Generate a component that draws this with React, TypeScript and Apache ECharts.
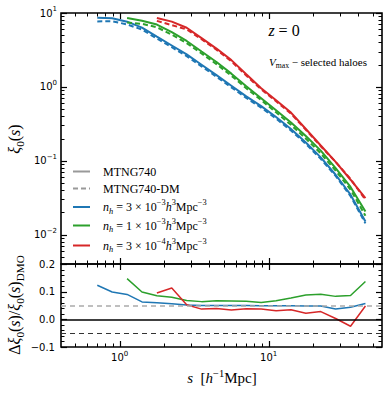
import React, { useEffect, useRef } from 'react';
import * as echarts from 'echarts';

// separation bins s [h^-1 Mpc]
const sBins = [0.708, 0.891, 1.122, 1.413, 1.778, 2.239, 2.818, 3.548, 4.467, 5.623, 7.079, 8.913, 11.22, 14.13, 17.78, 22.39, 28.18, 35.48, 44.67];
const sBlue = sBins;
const sGreen = sBins.slice(2);
const sRed = sBins.slice(4);

// xi_0(s), hydro (MTNG740) and dark-matter-only (MTNG740-DM)
const xiBlue = [8.64, 8.51, 7.63, 6.34, 4.79, 3.63, 2.75, 1.99, 1.44, 1.035, 0.743, 0.549, 0.391, 0.269, 0.177, 0.111, 0.0646, 0.0347, 0.0150];
const xiBlueDM = [7.69, 7.74, 7.0, 5.96, 4.52, 3.44, 2.61, 1.895, 1.371, 0.986, 0.708, 0.523, 0.373, 0.256, 0.169, 0.106, 0.0623, 0.0332, 0.0142];
const xiGreen = [8.56, 7.84, 6.97, 5.5, 4.18, 3.01, 2.17, 1.51, 1.02, 0.703, 0.482, 0.33, 0.216, 0.137, 0.0796, 0.0442, 0.0205];
const xiGreenDM = [7.46, 7.13, 6.42, 5.09, 3.91, 2.83, 2.03, 1.417, 0.958, 0.663, 0.452, 0.306, 0.199, 0.126, 0.0735, 0.0407, 0.018];
const xiRed = [8.56, 7.64, 6.31, 4.57, 3.3, 2.3, 1.48, 0.959, 0.658, 0.449, 0.269, 0.161, 0.0966, 0.0553, 0.0311];
const xiRedDM = [7.82, 6.86, 5.99, 4.41, 3.18, 2.22, 1.426, 0.925, 0.638, 0.434, 0.263, 0.157, 0.0963, 0.0567, 0.0297];

// relative difference
const dBlue = [0.123, 0.099, 0.09, 0.063, 0.06, 0.056, 0.052, 0.05, 0.05, 0.05, 0.05, 0.049, 0.049, 0.049, 0.048, 0.048, 0.037, 0.044, 0.057];
const dGreen = [0.147, 0.099, 0.085, 0.08, 0.068, 0.064, 0.067, 0.066, 0.065, 0.061, 0.067, 0.077, 0.088, 0.091, 0.083, 0.086, 0.137];
const dRed = [0.095, 0.113, 0.053, 0.037, 0.039, 0.034, 0.038, 0.037, 0.031, 0.035, 0.022, 0.028, 0.003, -0.025, 0.048];
const refLevels = [0.05, 0, -0.05];

// axis ranges and ticks
const sRange = [0.404, 57.7];
const xiRange = [0.004, 10];
const dRange = [-0.1, 0.2];
const dInterval = 0.1;
const sMajor = [1, 10];
const sMinor = [0.5, 0.6, 0.7, 0.8, 0.9, 2, 3, 4, 5, 6, 7, 8, 9, 20, 30, 40, 50];
const xiMajor = [0.01, 0.1, 1, 10];
const xiMinor = [0.005, 0.006, 0.007, 0.008, 0.009, 0.02, 0.03, 0.04, 0.05, 0.06, 0.07, 0.08, 0.09, 0.2, 0.3, 0.4, 0.5, 0.6, 0.7, 0.8, 0.9, 2, 3, 4, 5, 6, 7, 8, 9];
const dMajor = [-0.1, 0, 0.1, 0.2];
const dMinor = [-0.08, -0.06, -0.04, -0.02, 0.02, 0.04, 0.06, 0.08, 0.12, 0.14, 0.16, 0.18];

const legendLabels = ['MTNG740', 'MTNG740-DM', '3', '1', '3'];
const legendExp = ['-3', '-3', '-4'];

const BLUE = '#1f77b4';
const GREEN = '#2ca02c';
const RED = '#d62728';
const GRAY = '#999999';
const SERIF = '"Liberation Serif", "DejaVu Serif", serif';
const SANS = '"DejaVu Sans", sans-serif';

const L = Math.log10;

const mathRich = (fs: number) => ({
  i: { fontFamily: SERIF, fontStyle: 'italic', fontSize: fs, lineHeight: fs * 1.4, color: '#000' },
  r: { fontFamily: SERIF, fontSize: fs, lineHeight: fs * 1.4, color: '#000' },
  sup: { fontFamily: SERIF, fontSize: fs * 0.7, lineHeight: fs * 0.8, verticalAlign: 'top', color: '#000' },
  isup: { fontFamily: SERIF, fontStyle: 'italic', fontSize: fs * 0.7, lineHeight: fs * 0.8, verticalAlign: 'top', color: '#000' },
  sub: { fontFamily: SERIF, fontSize: fs * 0.7, lineHeight: fs * 0.8, verticalAlign: 'bottom', color: '#000' },
  isub: { fontFamily: SERIF, fontStyle: 'italic', fontSize: fs * 0.7, lineHeight: fs * 0.8, verticalAlign: 'bottom', color: '#000' },
});

const tickRich = {
  b: { fontFamily: SANS, fontSize: 10, lineHeight: 15, color: '#000' },
  s: { fontFamily: SANS, fontSize: 7, lineHeight: 8, verticalAlign: 'top', color: '#000' },
};
const logLabel = (v: number) => {
  const e = Math.round(v);
  return `{b|10}{s|${e < 0 ? '−' + -e : e}}`;
};

function tickSeries(idx: number, dir: 'x' | 'y', major: number[], minor: number[], other: number) {
  const data = [
    ...major.map((v) => (dir === 'x' ? [v, other, 1] : [other, v, 1])),
    ...minor.map((v) => (dir === 'x' ? [v, other, 0] : [other, v, 0])),
  ];
  return {
    type: 'custom',
    xAxisIndex: idx,
    yAxisIndex: idx,
    silent: true,
    z: 10,
    data,
    renderItem: (params: any, api: any) => {
      const cs = params.coordSys;
      const len = api.value(2) ? 6 : 3.5;
      const p = api.coord([api.value(0), api.value(1)]);
      const style = { stroke: '#000', lineWidth: api.value(2) ? 1.2 : 1 };
      if (dir === 'x') {
        const x = Math.round(p[0]) + 0.5;
        return {
          type: 'group',
          children: [
            { type: 'line', shape: { x1: x, y1: cs.y + cs.height, x2: x, y2: cs.y + cs.height - len }, style },
            { type: 'line', shape: { x1: x, y1: cs.y, x2: x, y2: cs.y + len }, style },
          ],
        };
      }
      const y = Math.round(p[1]) + 0.5;
      return {
        type: 'group',
        children: [
          { type: 'line', shape: { x1: cs.x, y1: y, x2: cs.x + len, y2: y }, style },
          { type: 'line', shape: { x1: cs.x + cs.width, y1: y, x2: cs.x + cs.width - len, y2: y }, style },
        ],
      };
    },
  };
}

const lineSeries = (s: number[], v: number[], color: string, dashed: boolean, idx: number, logY: boolean, width: number) => ({
  type: 'line',
  xAxisIndex: idx,
  yAxisIndex: idx,
  data: s.map((x, i) => [L(x), logY ? L(v[i]) : v[i]]),
  showSymbol: false,
  symbol: 'none',
  silent: true,
  lineStyle: { color, width, type: dashed ? [5, 3] : 'solid' },
  z: dashed ? 4 : 3,
});

export default function App() {
  const ref = useRef<HTMLDivElement>(null);
  useEffect(() => {
    if (!ref.current) return;
    const chart = echarts.init(ref.current, null, { renderer: 'svg' });
    const gridL = 61, gridR = 9;
    const commonX = {
      type: 'value',
      min: L(sRange[0]),
      max: L(sRange[1]),
      axisLine: { show: false },
      axisTick: { show: false },
      splitLine: { show: false },
    };
    const legendRows = [171.5, 188.5, 207, 225.5, 245.5];
    const legendColors = [GRAY, GRAY, BLUE, GREEN, RED];
    const graphics: any[] = [];
    legendRows.forEach((y, i) => {
      graphics.push({
        type: 'line',
        shape: { x1: 73, y1: y, x2: 90, y2: y },
        style: { stroke: legendColors[i], lineWidth: 2, lineDash: i === 1 ? [5, 3] : null },
        z: 20,
      });
      const text =
        i < 2
          ? `{r|${legendLabels[i]}}`
          : `{i|n}{isub|h}{r| = ${legendLabels[i]} × 10}{sup|${legendExp[i - 2].replace('-', '−')}}{i|h}{sup|3}{r|Mpc}{sup|−3}`;
      graphics.push({
        type: 'text',
        x: 103,
        y,
        z: 20,
        style: { text, rich: mathRich(12), verticalAlign: 'middle', align: 'left' },
      });
    });
    graphics.push(
      {
        type: 'text', x: 284, y: 30, z: 20,
        style: { text: '{i|z}{r| = 0}', rich: mathRich(16), align: 'center', verticalAlign: 'middle' },
      },
      {
        type: 'text', x: 318, y: 62, z: 20,
        style: { text: '{i|V}{sub|max}{r| − selected haloes}', rich: mathRich(11), align: 'center', verticalAlign: 'middle' },
      },
      {
        type: 'text', x: 14, y: 139, rotation: Math.PI / 2, z: 20,
        style: { text: '{i|ξ}{sub|0}{r|(}{i|s}{r|)}', rich: mathRich(16), align: 'center', verticalAlign: 'middle' },
      },
      {
        type: 'text', x: 14, y: 305, rotation: Math.PI / 2, z: 20,
        style: {
          text: '{r|Δ}{i|ξ}{sub|0}{r|(}{i|s}{r|)/}{i|ξ}{sub|0}{r|(}{i|s}{r|)}{sub|DMO}',
          rich: mathRich(16), align: 'center', verticalAlign: 'middle',
        },
      },
      {
        type: 'text', x: 222, y: 378, z: 20,
        style: { text: '{i|s}{r|  [}{i|h}{sup|−1}{r|Mpc]}', rich: mathRich(15), align: 'center', verticalAlign: 'middle' },
      }
    );

    chart.setOption({
      animation: false,
      backgroundColor: '#fff',
      grid: [
        { left: gridL, right: gridR, top: 13, height: 251, show: true, borderColor: '#000', borderWidth: 1.6, backgroundColor: 'transparent', containLabel: false, outerBoundsMode: 'none' },
        { left: gridL, right: gridR, top: 264, height: 83, show: true, borderColor: '#000', borderWidth: 1.6, backgroundColor: 'transparent', containLabel: false, outerBoundsMode: 'none' },
      ],
      xAxis: [
        { ...commonX, gridIndex: 0, axisLabel: { show: false } },
        {
          ...commonX,
          gridIndex: 1,
          axisLabel: { show: true, customValues: sMajor.map(L), formatter: logLabel, rich: tickRich, margin: 3 },
        },
      ],
      yAxis: [
        {
          type: 'value', gridIndex: 0, min: L(xiRange[0]), max: L(xiRange[1]),
          axisLine: { show: false }, axisTick: { show: false }, splitLine: { show: false },
          axisLabel: { show: true, customValues: xiMajor.map(L), formatter: logLabel, rich: tickRich, margin: 4 },
        },
        {
          type: 'value', gridIndex: 1, min: dRange[0], max: dRange[1], interval: dInterval,
          axisLine: { show: false }, axisTick: { show: false }, splitLine: { show: false },
          axisLabel: {
            show: true, margin: 6, color: '#000', fontFamily: SANS, fontSize: 10,
            formatter: (v: number) => (v < -1e-9 ? '−' : '') + Math.abs(v).toFixed(1),
          },
        },
      ],
      series: [
        {
          type: 'line', xAxisIndex: 1, yAxisIndex: 1, data: [], silent: true, z: 1,
          markLine: {
            silent: true, symbol: 'none', label: { show: false }, animation: false,
            data: [
              { yAxis: refLevels[0], lineStyle: { color: '#aaaaaa', width: 1.5, type: [5, 4] } },
              { yAxis: refLevels[1], lineStyle: { color: '#000', width: 1.5, type: 'solid' } },
              { yAxis: refLevels[2], lineStyle: { color: '#333', width: 1, type: [5, 4] } },
            ],
          },
        },
        lineSeries(sBlue, xiBlue, BLUE, false, 0, true, 2),
        lineSeries(sBlue, xiBlueDM, BLUE, true, 0, true, 2),
        lineSeries(sGreen, xiGreen, GREEN, false, 0, true, 2),
        lineSeries(sGreen, xiGreenDM, GREEN, true, 0, true, 2),
        lineSeries(sRed, xiRed, RED, false, 0, true, 2),
        lineSeries(sRed, xiRedDM, RED, true, 0, true, 2),
        lineSeries(sBlue, dBlue, BLUE, false, 1, false, 1.5),
        lineSeries(sGreen, dGreen, GREEN, false, 1, false, 1.5),
        lineSeries(sRed, dRed, RED, false, 1, false, 1.5),
        tickSeries(0, 'x', sMajor.map(L), sMinor.map(L), 0),
        tickSeries(0, 'y', xiMajor.map(L), xiMinor.map(L), 0),
        tickSeries(1, 'x', sMajor.map(L), sMinor.map(L), 0),
        tickSeries(1, 'y', dMajor, dMinor, 0),
      ],
      graphic: graphics,
    });
    return () => chart.dispose();
  }, []);
  return <div ref={ref} style={{ position: 'fixed', left: 0, top: 0, width: 391, height: 395 }} />;
}
